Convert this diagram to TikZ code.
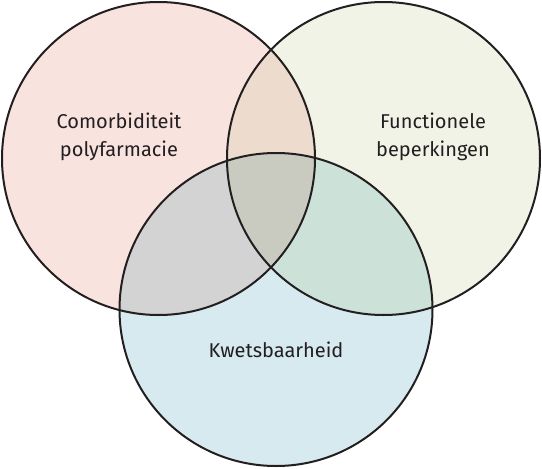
\documentclass[tikz,border=0pt]{standalone}
\usepackage{fontspec}
\setmainfont{Fira Sans}
\definecolor{cA}{HTML}{F9E3DF}
\definecolor{cB}{HTML}{F2F3E7}
\definecolor{cC}{HTML}{D7EAF0}
\definecolor{cAB}{HTML}{EDDCCE}
\definecolor{cAC}{HTML}{D3D3D4}
\definecolor{cBC}{HTML}{CCE2D9}
\definecolor{cABC}{HTML}{C9CBC1}
\definecolor{ink}{HTML}{231F20}
\tikzset{
  ring/.style={draw=ink, line width=2pt},
  lbl/.style={font=\fontsize{20}{28}\selectfont, text=ink, align=center, inner sep=0pt}
}
\newcommand{\rr}{156.5pt}
\begin{document}
\begin{tikzpicture}[x=1pt,y=-1pt]
\useasboundingbox (0,0) rectangle (542,469);
\coordinate (A) at (158.5,158.5);
\coordinate (B) at (383.5,158.5);
\coordinate (C) at (276,309.5);
% base fills
\fill[cA] (A) circle[radius=\rr];
\fill[cB] (B) circle[radius=\rr];
\fill[cC] (C) circle[radius=\rr];
% pairwise overlaps
\begin{scope}
  \clip (A) circle[radius=\rr];
  \fill[cAB] (B) circle[radius=\rr];
  \fill[cAC] (C) circle[radius=\rr];
\end{scope}
\begin{scope}
  \clip (B) circle[radius=\rr];
  \fill[cBC] (C) circle[radius=\rr];
  \clip (C) circle[radius=\rr];
  \fill[cABC] (A) circle[radius=\rr];
\end{scope}
% outlines
\draw[ring] (A) circle[radius=\rr];
\draw[ring] (B) circle[radius=\rr];
\draw[ring] (C) circle[radius=\rr];
% labels
\node[lbl] (tA) at (119,137) {Comorbiditeit\\polyfarmacie};
\node[lbl] (tB) at (433,137) {Functionele\\beperkingen};
\node[lbl] (tC) at (276,350) {Kwetsbaarheid};
\end{tikzpicture}
\end{document}
